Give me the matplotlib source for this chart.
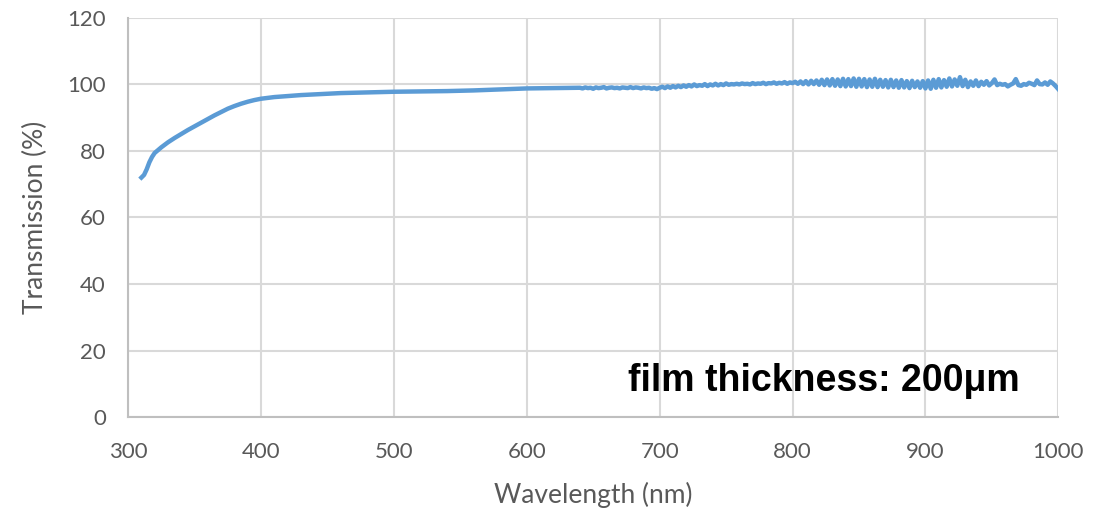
import numpy as np
import matplotlib
matplotlib.use('Agg')
import matplotlib.pyplot as plt

# smooth rise of the spectrum (nm, %)
WL_SMOOTH = [310, 312, 314, 316, 318, 320, 325, 330, 335, 340,
             345, 350, 355, 360, 365, 370, 375, 380, 385, 390,
             395, 400, 410, 420, 430, 440, 450, 460, 470, 480,
             490, 500, 520, 540, 560, 580, 600, 620, 638]
TR_SMOOTH = [72.0, 72.8, 74.5, 76.6, 78.2, 79.4, 81.1, 82.6, 83.9, 85.1,
             86.3, 87.4, 88.5, 89.6, 90.7, 91.7, 92.7, 93.5, 94.2, 94.8,
             95.3, 95.7, 96.2, 96.5, 96.8, 97.0, 97.2, 97.4, 97.5, 97.6,
             97.7, 97.8, 97.9, 98.0, 98.2, 98.5, 98.8, 98.9, 99.0]

# noisy part, every 2 nm from 640 to 1000
TR_640_700 = [99.0, 98.8, 99.1, 98.9, 99.0, 98.7, 99.1, 98.9, 99.0, 99.2,
              98.8, 99.0, 99.1, 98.9, 99.0, 98.8, 99.1, 99.0, 98.9, 99.2,
              98.9, 99.1, 99.0, 98.8, 99.1, 98.9, 99.0, 98.7, 98.9, 98.6,
              99.0]
TR_702_800 = [99.3, 98.9, 99.4, 99.0, 99.5, 99.1, 99.6, 99.2, 99.7, 99.3,
              99.8, 99.4, 100.0, 99.5, 99.8, 99.6, 100.1, 99.5, 100.0, 99.7,
              100.2, 99.7, 100.1, 99.8, 100.3, 99.9, 100.1, 100.0, 100.2, 100.0,
              100.3, 100.1, 100.2, 100.0, 100.4, 100.1, 100.3, 100.2, 100.5, 100.1,
              100.4, 100.3, 100.6, 100.2, 100.5, 100.3, 100.7, 100.2, 100.6, 100.4]
TR_802_900 = [100.8, 100.2, 100.9, 100.1, 101.0, 100.0, 101.1, 100.1, 101.2, 99.9,
              101.4, 99.8, 101.5, 99.7, 101.6, 99.6, 101.5, 99.5, 101.7, 99.4,
              101.6, 99.5, 101.8, 99.3, 101.7, 99.4, 101.6, 99.2, 101.5, 99.3,
              101.7, 99.2, 101.4, 99.3, 101.3, 99.1, 101.4, 99.2, 101.2, 99.0,
              101.3, 99.1, 101.0, 98.9, 101.1, 99.2, 100.9, 99.0, 101.0, 98.8]
TR_902_1000 = [101.2, 98.7, 101.4, 99.0, 101.6, 99.1, 101.3, 99.3, 101.8, 99.4,
               101.5, 99.6, 102.2, 99.5, 101.4, 99.2, 100.9, 99.6, 101.2, 99.5,
               100.8, 99.9, 101.0, 99.7, 100.4, 101.5, 99.8, 100.2, 99.9, 100.1,
               99.4, 99.9, 100.3, 101.6, 99.8, 99.6, 100.1, 99.9, 100.5, 100.2,
               99.8, 101.2, 100.1, 100.0, 100.6, 99.9, 100.9, 100.3, 99.5, 98.6]

tr_noisy = TR_640_700 + TR_702_800 + TR_802_900 + TR_902_1000
wl_noisy = list(range(640, 640 + 2 * len(tr_noisy), 2))

wl = WL_SMOOTH + wl_noisy
tr = TR_SMOOTH + tr_noisy

fig = plt.figure(figsize=(11.14, 5.12), dpi=100)
ax = fig.add_axes([0.115, 0.1855, 0.835, 0.7795])

ax.plot(wl, tr, color='#5B9BD5', lw=3.2, solid_joinstyle='round')

ax.set_xlim(300, 1000)
ax.set_ylim(0, 120)
ax.set_xticks(range(300, 1001, 100))
ax.set_yticks(range(0, 121, 20))
ax.grid(color='#D9D9D9', lw=1.5)
ax.set_axisbelow(True)
for s in ['top', 'right']:
    ax.spines[s].set_visible(False)
for s in ['left', 'bottom']:
    ax.spines[s].set_color('#BFBFBF')
    ax.spines[s].set_linewidth(1.5)
ax.tick_params(length=0, labelsize=16, labelcolor='#595959')
ax.tick_params(axis='x', pad=18)
ax.tick_params(axis='y', pad=16)
for lab in ax.get_xticklabels() + ax.get_yticklabels():
    lab.set_family('Lato')

ax.set_xlabel('Wavelength (nm)', fontsize=19, color='#595959', family='Lato', labelpad=14)
ax.set_ylabel('Transmission (%)', fontsize=19, color='#595959', family='Lato', labelpad=14)

ax.text(0.959, 0.09, 'film thickness: 200μm', transform=ax.transAxes,
        ha='right', va='center', fontsize=27, fontweight='bold',
        family='Liberation Sans', color='black')

fig.savefig('out.png', dpi=100)
